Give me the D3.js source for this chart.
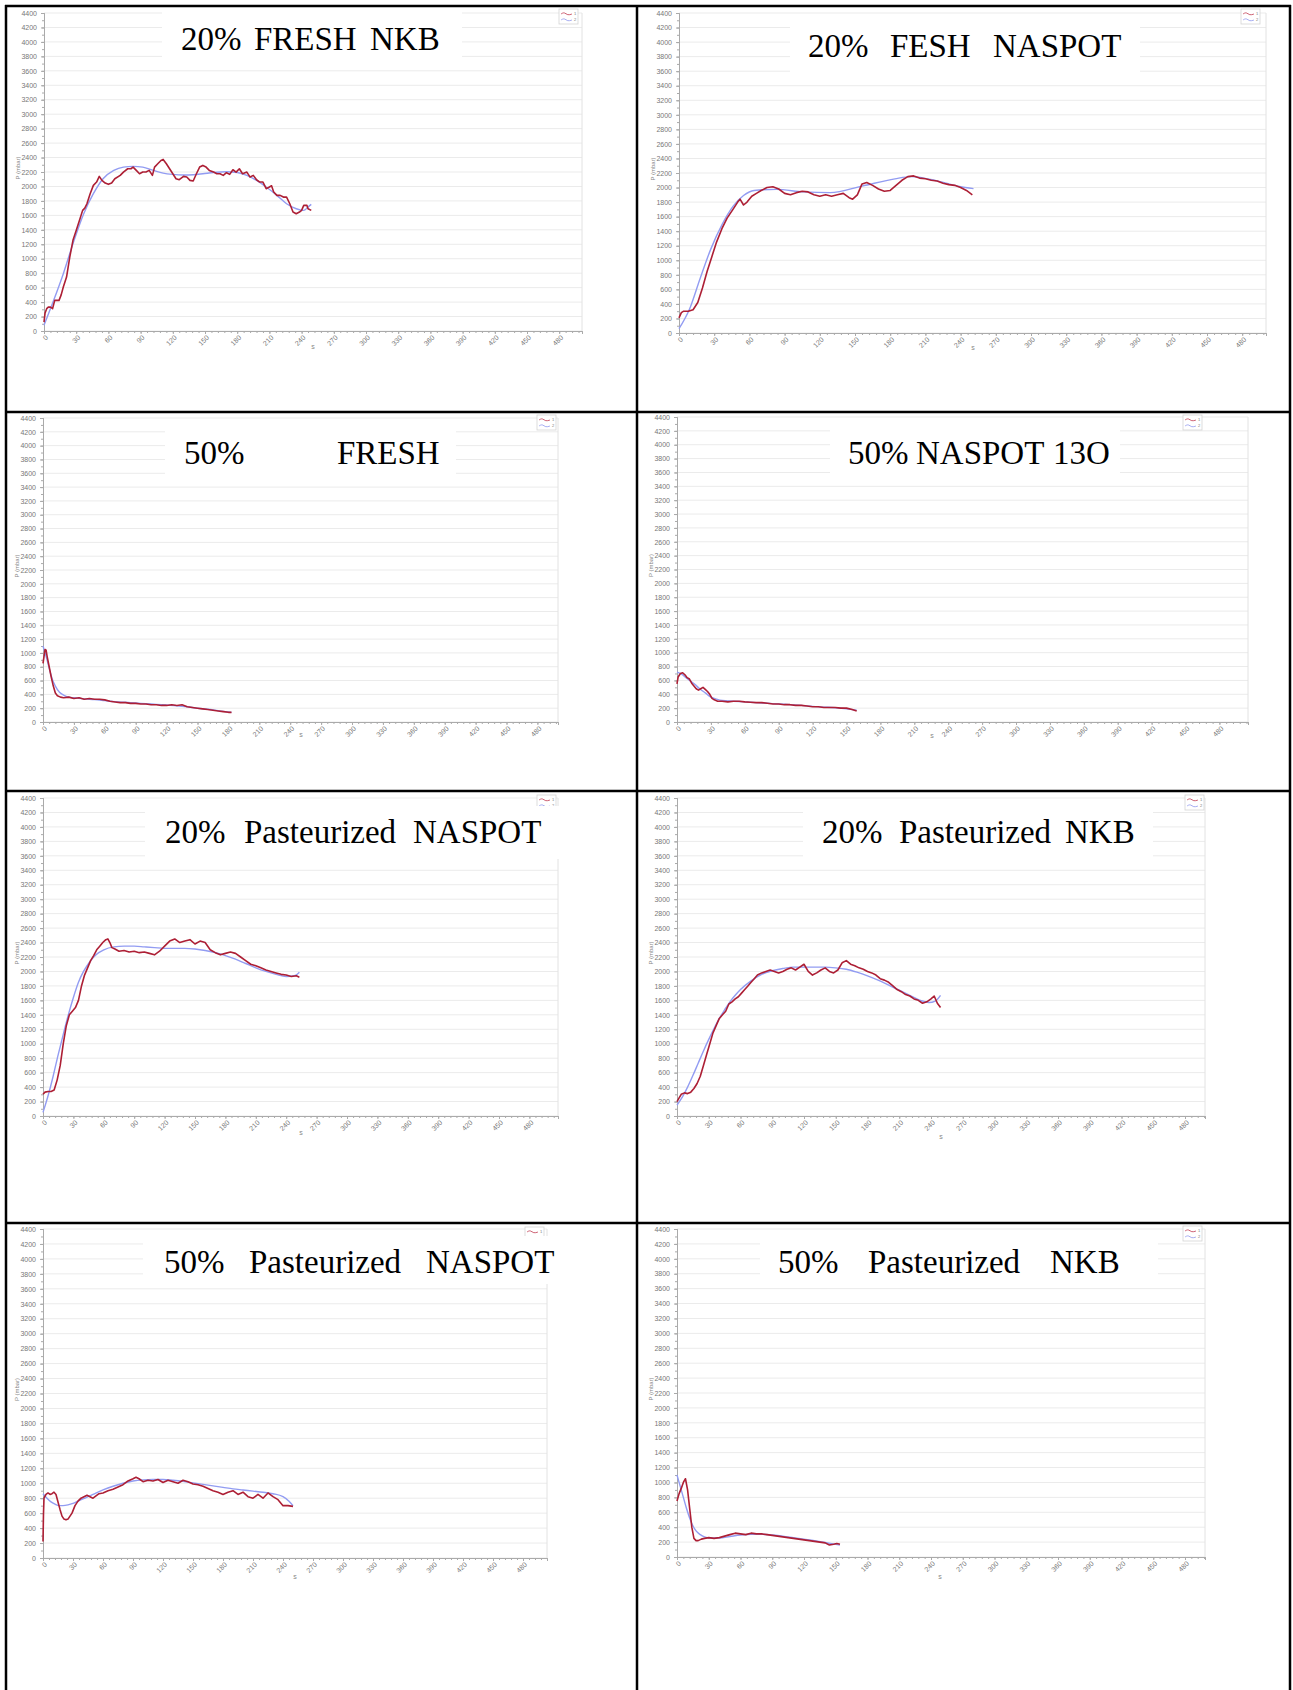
<!DOCTYPE html>
<html>
<head>
<meta charset="utf-8">
<script src="https://cdnjs.cloudflare.com/ajax/libs/d3/7.8.5/d3.min.js"></script>
<style>
body { margin: 0; background: #fff; }
svg { display: block; }
.tick text { font-family: "Liberation Sans", Arial, sans-serif; fill: #777; }
.title { font-family: "Liberation Serif", "Times New Roman", serif; font-size: 33px; fill: #000; }
</style>
</head>
<body>
<svg id="chart" width="1293" height="1690"></svg>
<script>

// tick labels shared by all eight plots
var yTicks = d3.range(0, 4401, 200);
var xTicks = d3.range(0, 481, 30);

var titles = [
	'20%   FRESH  NKB',
	'20%    FESH    NASPOT',
	'50%            FRESH',
	'50% NASPOT 13O',
	'20%   Pasteurized   NASPOT',
	'20%   Pasteurized   NKB',
	'50%    Pasteurized    NASPOT',
	'50%    Pasteurized    NKB'
];

// series 1 (measured, red) and series 2 (fit, blue): [s, mbar]
var p1Red = [[0,124],[1,250],[2.5,309],[4,330],[6,330],[8,309],[10,424],[12,424],[14,424],[16,500],[18,608],[21,747],[24,1023],[27,1254],[30,1392],[33,1530],[36,1669],[38,1700],[40,1761],[43,1900],[46,2015],[49,2061],[51.5,2139],[54,2084],[57,2047],[60,2029],[63,2047],[66,2107],[71,2153],[74,2199],[78,2245],[81,2245],[83,2268],[86,2222],[89,2176],[92,2199],[95,2199],[98,2222],[101,2153],[103,2268],[106,2314],[109,2360],[111,2374],[114,2314],[117,2245],[120,2176],[123,2107],[126,2093],[130,2139],[133,2130],[136,2084],[139,2075],[142,2176],[145,2268],[148,2291],[151,2268],[154,2222],[158,2199],[161,2176],[164,2176],[167,2153],[170,2190],[173,2167],[176,2231],[179,2199],[182,2245],[185,2176],[189,2199],[192,2130],[195,2153],[198,2093],[201,2061],[204,2061],[207,1969],[210,1992],[212,2010],[214,1923],[217,1877],[220,1877],[223,1853],[226,1853],[229,1761],[232,1646],[235,1623],[238,1646],[240,1669],[242,1738],[245,1738],[246,1692],[249,1669]];
var p1Blue = [[0,78],[9,424],[18,793],[27,1208],[37,1623],[46,1900],[55,2107],[65,2222],[74,2268],[83,2278],[92,2268],[102,2222],[111,2185],[120,2167],[130,2158],[139,2162],[148,2176],[158,2194],[170,2204],[180,2194],[189,2153],[198,2084],[207,1992],[217,1877],[226,1761],[235,1692],[242,1669],[246,1715],[249,1752]];

var p2Red = [[0,207],[2,280],[4,300],[8,300],[12,320],[16,420],[20,620],[24,850],[28,1050],[32,1250],[37,1450],[41,1580],[46,1700],[50,1800],[52,1840],[55,1760],[58,1800],[62,1880],[66,1920],[70,1960],[75,2000],[80,2010],[85,1980],[90,1920],[95,1900],[100,1930],[105,1950],[110,1940],[115,1900],[120,1880],[125,1900],[130,1880],[135,1900],[140,1920],[145,1860],[148,1840],[152,1900],[156,2050],[160,2070],[165,2030],[170,1980],[175,1950],[180,1960],[185,2030],[190,2100],[195,2150],[200,2160],[205,2130],[210,2120],[215,2100],[220,2090],[225,2060],[230,2040],[235,2030],[240,2000],[245,1960],[250,1900]];
var p2Blue = [[0,59],[9,330],[18,750],[27,1150],[37,1500],[46,1740],[55,1890],[64,1960],[83,1975],[106,1940],[129,1930],[156,2020],[184,2120],[198,2150],[221,2089],[239,2015],[251,1985]];

var p3Red = [[0,850],[1,950],[2,1050],[3,1040],[4,950],[6,800],[8,650],[10,520],[12,420],[14,380],[17,360],[20,350],[25,360],[30,340],[35,350],[40,330],[45,340],[50,330],[55,330],[60,320],[65,300],[70,290],[75,280],[80,280],[85,270],[90,270],[95,260],[100,260],[105,250],[110,250],[115,240],[120,240],[125,250],[130,240],[135,250],[140,220],[145,210],[150,200],[155,190],[160,180],[165,170],[170,160],[175,150],[180,140],[183,140]];
var p3Blue = [[0,1100],[3,950],[6,780],[9,620],[12,520],[16,430],[20,390],[25,360],[30,350],[40,335],[50,325],[60,310],[70,295],[80,285],[90,275],[100,265],[110,255],[120,245],[130,235],[140,220],[150,200],[160,185],[170,165],[180,145],[183,140]];

var p4Red = [[0,550],[1,650],[3,700],[5,710],[7,680],[9,640],[11,620],[13,560],[15,520],[17,480],[19,460],[21,480],[23,500],[25,470],[27,440],[29,400],[31,340],[33,320],[36,300],[40,300],[45,290],[50,300],[55,300],[60,290],[65,285],[70,280],[75,280],[80,270],[85,260],[90,260],[95,250],[100,250],[105,240],[110,240],[115,230],[120,220],[125,220],[130,210],[135,210],[140,210],[145,200],[150,200],[155,180],[159,160]];
var p4Blue = [[0,720],[4,690],[8,640],[12,590],[16,540],[20,480],[25,420],[30,360],[35,330],[40,310],[50,300],[60,290],[70,280],[80,270],[90,260],[100,250],[110,240],[120,225],[130,215],[140,205],[150,190],[159,170]];

var p5Red = [[0,300],[2,330],[5,340],[8,340],[11,360],[14,500],[17,700],[20,1000],[23,1250],[26,1400],[29,1450],[32,1500],[35,1600],[38,1800],[41,1950],[44,2050],[47,2150],[50,2220],[53,2300],[56,2350],[59,2400],[62,2440],[64,2450],[66,2400],[68,2330],[71,2310],[75,2280],[80,2290],[85,2270],[90,2280],[95,2260],[100,2270],[105,2250],[110,2230],[115,2280],[120,2350],[125,2420],[130,2450],[135,2400],[140,2420],[145,2440],[150,2380],[155,2420],[160,2400],[165,2300],[170,2260],[175,2230],[180,2250],[185,2270],[190,2250],[195,2200],[200,2150],[205,2100],[210,2080],[215,2050],[220,2020],[225,2000],[230,1980],[235,1960],[240,1950],[245,1930],[250,1940],[253,1920]];
var p5Blue = [[0,50],[5,280],[10,550],[15,850],[20,1130],[25,1400],[30,1640],[35,1850],[40,2000],[45,2110],[50,2200],[55,2260],[60,2300],[70,2340],[80,2350],[90,2350],[100,2340],[110,2330],[120,2320],[130,2320],[140,2320],[150,2310],[160,2290],[170,2260],[180,2220],[190,2170],[200,2110],[210,2050],[220,2000],[230,1960],[240,1930],[248,1940],[253,1990]];

var p6Red = [[0,200],[2,250],[4,300],[7,320],[10,310],[13,330],[16,380],[19,450],[22,550],[25,700],[28,850],[31,1000],[34,1150],[37,1250],[40,1350],[43,1400],[46,1450],[49,1550],[52,1580],[55,1620],[58,1650],[61,1700],[64,1750],[67,1800],[70,1850],[73,1900],[76,1950],[80,1980],[84,2000],[88,2020],[92,2000],[96,1980],[100,2000],[104,2030],[108,2050],[112,2020],[116,2060],[120,2100],[124,2000],[128,1950],[132,1980],[136,2020],[140,2050],[144,2000],[148,1980],[152,2020],[156,2120],[160,2150],[164,2100],[168,2080],[172,2050],[176,2030],[180,2000],[184,1980],[188,1950],[192,1900],[196,1880],[200,1850],[204,1800],[208,1750],[212,1720],[216,1680],[220,1660],[224,1620],[228,1600],[232,1560],[236,1580],[240,1620],[243,1660],[246,1560],[249,1500]];
var p6Blue = [[0,150],[5,260],[10,400],[15,560],[20,730],[25,900],[30,1060],[35,1210],[40,1350],[45,1470],[50,1580],[55,1670],[60,1750],[70,1870],[80,1960],[90,2010],[100,2040],[110,2060],[120,2060],[130,2060],[140,2060],[150,2050],[160,2030],[170,1990],[180,1940],[190,1880],[200,1810],[210,1740],[220,1670],[230,1600],[238,1570],[244,1590],[249,1670]];

var p7Red = [[0,220],[0.5,600],[1,800],[3,850],[5,870],[7,850],[9,860],[11,880],[13,850],[15,750],[17,650],[19,560],[21,520],[23,510],[25,520],[27,560],[29,600],[32,700],[35,760],[38,800],[41,820],[44,840],[47,820],[50,800],[53,830],[56,860],[60,870],[65,900],[70,920],[75,950],[80,980],[85,1030],[90,1060],[93,1080],[96,1060],[100,1020],[105,1040],[110,1030],[115,1050],[120,1010],[125,1040],[130,1020],[135,1000],[140,1040],[145,1020],[150,990],[155,980],[160,960],[165,930],[170,900],[175,880],[180,850],[185,880],[190,900],[195,850],[200,880],[205,820],[210,800],[215,850],[220,800],[225,870],[230,820],[235,780],[240,700],[245,700],[250,690]];
var p7Blue = [[0,860],[4,800],[8,750],[12,720],[16,700],[20,700],[25,710],[30,730],[35,760],[40,790],[45,820],[50,850],[60,910],[70,960],[80,1000],[90,1030],[100,1045],[110,1050],[120,1050],[130,1040],[140,1025],[150,1005],[160,985],[170,965],[180,945],[190,925],[200,910],[210,895],[220,880],[230,860],[240,820],[246,760],[250,700]];

var p8Red = [[0,750],[2,850],[4,920],[6,1000],[8,1050],[10,900],[12,650],[14,400],[16,250],[18,220],[20,220],[23,240],[26,250],[30,260],[35,250],[40,260],[45,280],[50,300],[55,320],[60,310],[65,300],[70,320],[75,310],[80,310],[85,300],[90,290],[95,280],[100,270],[105,260],[110,250],[115,240],[120,230],[125,220],[130,210],[135,200],[140,190],[144,160],[148,170],[151,180],[154,170]];
var p8Blue = [[0,1100],[3,950],[6,800],[9,650],[12,520],[15,420],[18,350],[22,300],[26,270],[30,255],[40,255],[50,275],[60,295],[70,305],[80,305],[90,295],[100,280],[110,260],[120,240],[130,220],[140,195],[148,175],[154,160]];

var reds = [p1Red, p2Red, p3Red, p4Red, p5Red, p6Red, p7Red, p8Red];
var blues = [p1Blue, p2Blue, p3Blue, p4Blue, p5Blue, p6Blue, p7Blue, p8Blue];

// where each pasted plot sits on the page (px)
// ax: y axis x, px30: px per 30 s, right: plot right edge, y0/yTop: pixel of 0 and 4400
var layout = [
	{ax:44,  px30:32.2,  right:582,  y0:331,  yTop:13,   box:[162,6,300,52],    wx:[181,254,370],  base:50,   leg:[559,9],    s:[313,349]},
	{ax:679, px30:35.2,  right:1266, y0:333,  yTop:13,   box:[790,20,350,56],   wx:[808,890,993],  base:57,   leg:[1241,9],   s:[973,350]},
	{ax:43,  px30:30.9,  right:558,  y0:722,  yTop:418,  box:[165,423,291,54],  wx:[184,337],      base:464,  leg:[537,415],  s:[301,737]},
	{ax:677, px30:33.9,  right:1248, y0:722,  yTop:417,  box:[830,423,290,54],  wx:[848,916,1053], base:464,  leg:[1183,415], s:[932,738]},
	{ax:43,  px30:30.4,  right:558,  y0:1116, yTop:798,  box:[145,806,415,53],  wx:[165,244,413],  base:843,  leg:[537,795],  s:[301,1135]},
	{ax:677, px30:31.75, right:1205, y0:1116, yTop:798,  box:[803,806,350,53],  wx:[822,899,1065], base:843,  leg:[1185,795], s:[941,1139]},
	{ax:43,  px30:30,    right:547,  y0:1558, yTop:1229, box:[143,1236,410,48], wx:[164,249,426],  base:1273, leg:[525,1227], s:[295,1579]},
	{ax:677, px30:31.75, right:1205, y0:1557, yTop:1229, box:[760,1236,398,50], wx:[778,868,1050], base:1273, leg:[1183,1226], s:[940,1579]}
];

var svg = d3.select('#chart');

function drawPanel(i) {
	var L = layout[i];
	var g = svg.append('g');
	var tMax = (L.right - L.ax) / L.px30 * 30;
	var x = d3.scaleLinear().domain([0, tMax]).range([L.ax, L.right]);
	var y = d3.scaleLinear().domain([0, 4400]).range([L.y0, L.yTop]);

	// horizontal grid
	g.selectAll('line.grid')
		.data(yTicks)
		.enter()
		.append('line')
		.attr('x1', L.ax).attr('x2', L.right)
		.attr('y1', function(d){ return y(d); })
		.attr('y2', function(d){ return y(d); })
		.attr('stroke', '#ebebeb');
	g.append('line')
		.attr('x1', L.right).attr('x2', L.right)
		.attr('y1', L.yTop).attr('y2', L.y0)
		.attr('stroke', '#e2e2e2');

	// minor ticks
	g.append('g')
		.attr('transform', 'translate(' + L.ax + ',0)')
		.call(d3.axisLeft(y).tickValues(d3.range(0, 4401, 100)).tickSize(2).tickFormat(''))
		.call(styleAxis);
	g.append('g')
		.attr('transform', 'translate(0,' + L.y0 + ')')
		.call(d3.axisBottom(x).tickValues(d3.range(0, tMax, 6)).tickSize(2).tickFormat(''))
		.call(styleAxis);

	var ya = g.append('g')
		.attr('transform', 'translate(' + L.ax + ',0)')
		.call(d3.axisLeft(y).tickValues(yTicks).tickSize(3).tickPadding(4).tickFormat(d3.format('d')))
		.call(styleAxis);
	ya.selectAll('text').style('font-size', '7px');

	var xa = g.append('g')
		.attr('transform', 'translate(0,' + L.y0 + ')')
		.call(d3.axisBottom(x).tickValues(xTicks).tickSize(3))
		.call(styleAxis);
	xa.selectAll('text')
		.style('font-size', '7px')
		.attr('text-anchor', 'end')
		.attr('dy', null)
		.attr('y', 0)
		.attr('transform', 'translate(4,7) rotate(-45)');

	g.append('text')
		.text('P (mbar)')
		.attr('transform', 'translate(' + (L.ax - 24) + ',' + ((L.y0 + L.yTop) / 2 - 4) + ') rotate(-90)')
		.attr('text-anchor', 'middle')
		.style('font-family', '"Liberation Sans", Arial, sans-serif')
		.style('font-size', '6px')
		.style('fill', '#888');
	g.append('text')
		.text('s')
		.attr('x', L.s[0]).attr('y', L.s[1])
		.attr('text-anchor', 'middle')
		.style('font-family', '"Liberation Sans", Arial, sans-serif')
		.style('font-size', '7px')
		.style('fill', '#888');

	var line = d3.line()
		.x(function(d){ return x(d[0]); })
		.y(function(d){ return y(d[1]); });
	g.append('path')
		.attr('d', line.curve(d3.curveMonotoneX)(blues[i]))
		.attr('fill', 'none')
		.attr('stroke', '#929cf2')
		.attr('stroke-width', 1.4);
	g.append('path')
		.attr('d', line.curve(d3.curveLinear)(reds[i]))
		.attr('fill', 'none')
		.attr('stroke', '#ad1f35')
		.attr('stroke-width', 1.6)
		.attr('stroke-linejoin', 'round');

	drawLegend(g, L.leg[0], L.leg[1]);

	// title label pasted over the plot
	g.append('rect')
		.attr('x', L.box[0]).attr('y', L.box[1])
		.attr('width', L.box[2]).attr('height', L.box[3])
		.attr('fill', '#fff');
	var words = titles[i].split(/\s+/);
	g.selectAll('text.title')
		.data(words)
		.enter()
		.append('text')
		.attr('class', 'title')
		.attr('x', function(d, k){ return L.wx[k]; })
		.attr('y', L.base)
		.text(function(d){ return d; });
}

function styleAxis(sel) {
	sel.select('.domain').attr('stroke', '#aaa');
	sel.selectAll('.tick line').attr('stroke', '#aaa');
}

function drawLegend(g, lx, ly) {
	var box = g.append('g').attr('transform', 'translate(' + lx + ',' + ly + ')');
	box.append('rect')
		.attr('width', 19).attr('height', 15)
		.attr('fill', '#fff').attr('stroke', '#d4d4d4').attr('stroke-width', 0.8);
	var wx = d3.scaleLinear().domain([0, 1]).range([2, 13]);
	var wave = [[0, 0], [0.3, -2], [0.6, 1.5], [1, 0]];
	var wl = d3.line().curve(d3.curveBasis)
		.x(function(d){ return wx(d[0]); })
		.y(function(d){ return d[1]; });
	box.append('path').attr('d', wl(wave)).attr('transform', 'translate(0,5)')
		.attr('fill', 'none').attr('stroke', '#c0394f').attr('stroke-width', 0.8);
	box.append('path').attr('d', wl(wave)).attr('transform', 'translate(0,11)')
		.attr('fill', 'none').attr('stroke', '#8f98ee').attr('stroke-width', 0.8);
	box.selectAll('text').data(['1', '2']).enter().append('text')
		.attr('x', 15).attr('y', function(d, k){ return 6 + k * 6; })
		.text(function(d){ return d; })
		.style('font-family', '"Liberation Sans", Arial, sans-serif')
		.style('font-size', '4px').style('fill', '#777');
}

for (var i = 0; i < layout.length; i++) {
	drawPanel(i);
}

// table borders
var vLines = [6, 637, 1290];
var hLines = [6, 412, 791, 1223];
svg.selectAll('line.vb').data(vLines).enter().append('line')
	.attr('x1', function(d){ return d; }).attr('x2', function(d){ return d; })
	.attr('y1', 5).attr('y2', 1690)
	.attr('stroke', '#000').attr('stroke-width', 2.5);
svg.selectAll('line.hb').data(hLines).enter().append('line')
	.attr('x1', 5).attr('x2', 1291)
	.attr('y1', function(d){ return d; }).attr('y2', function(d){ return d; })
	.attr('stroke', '#000').attr('stroke-width', 2.5);

</script>
</body>
</html>
